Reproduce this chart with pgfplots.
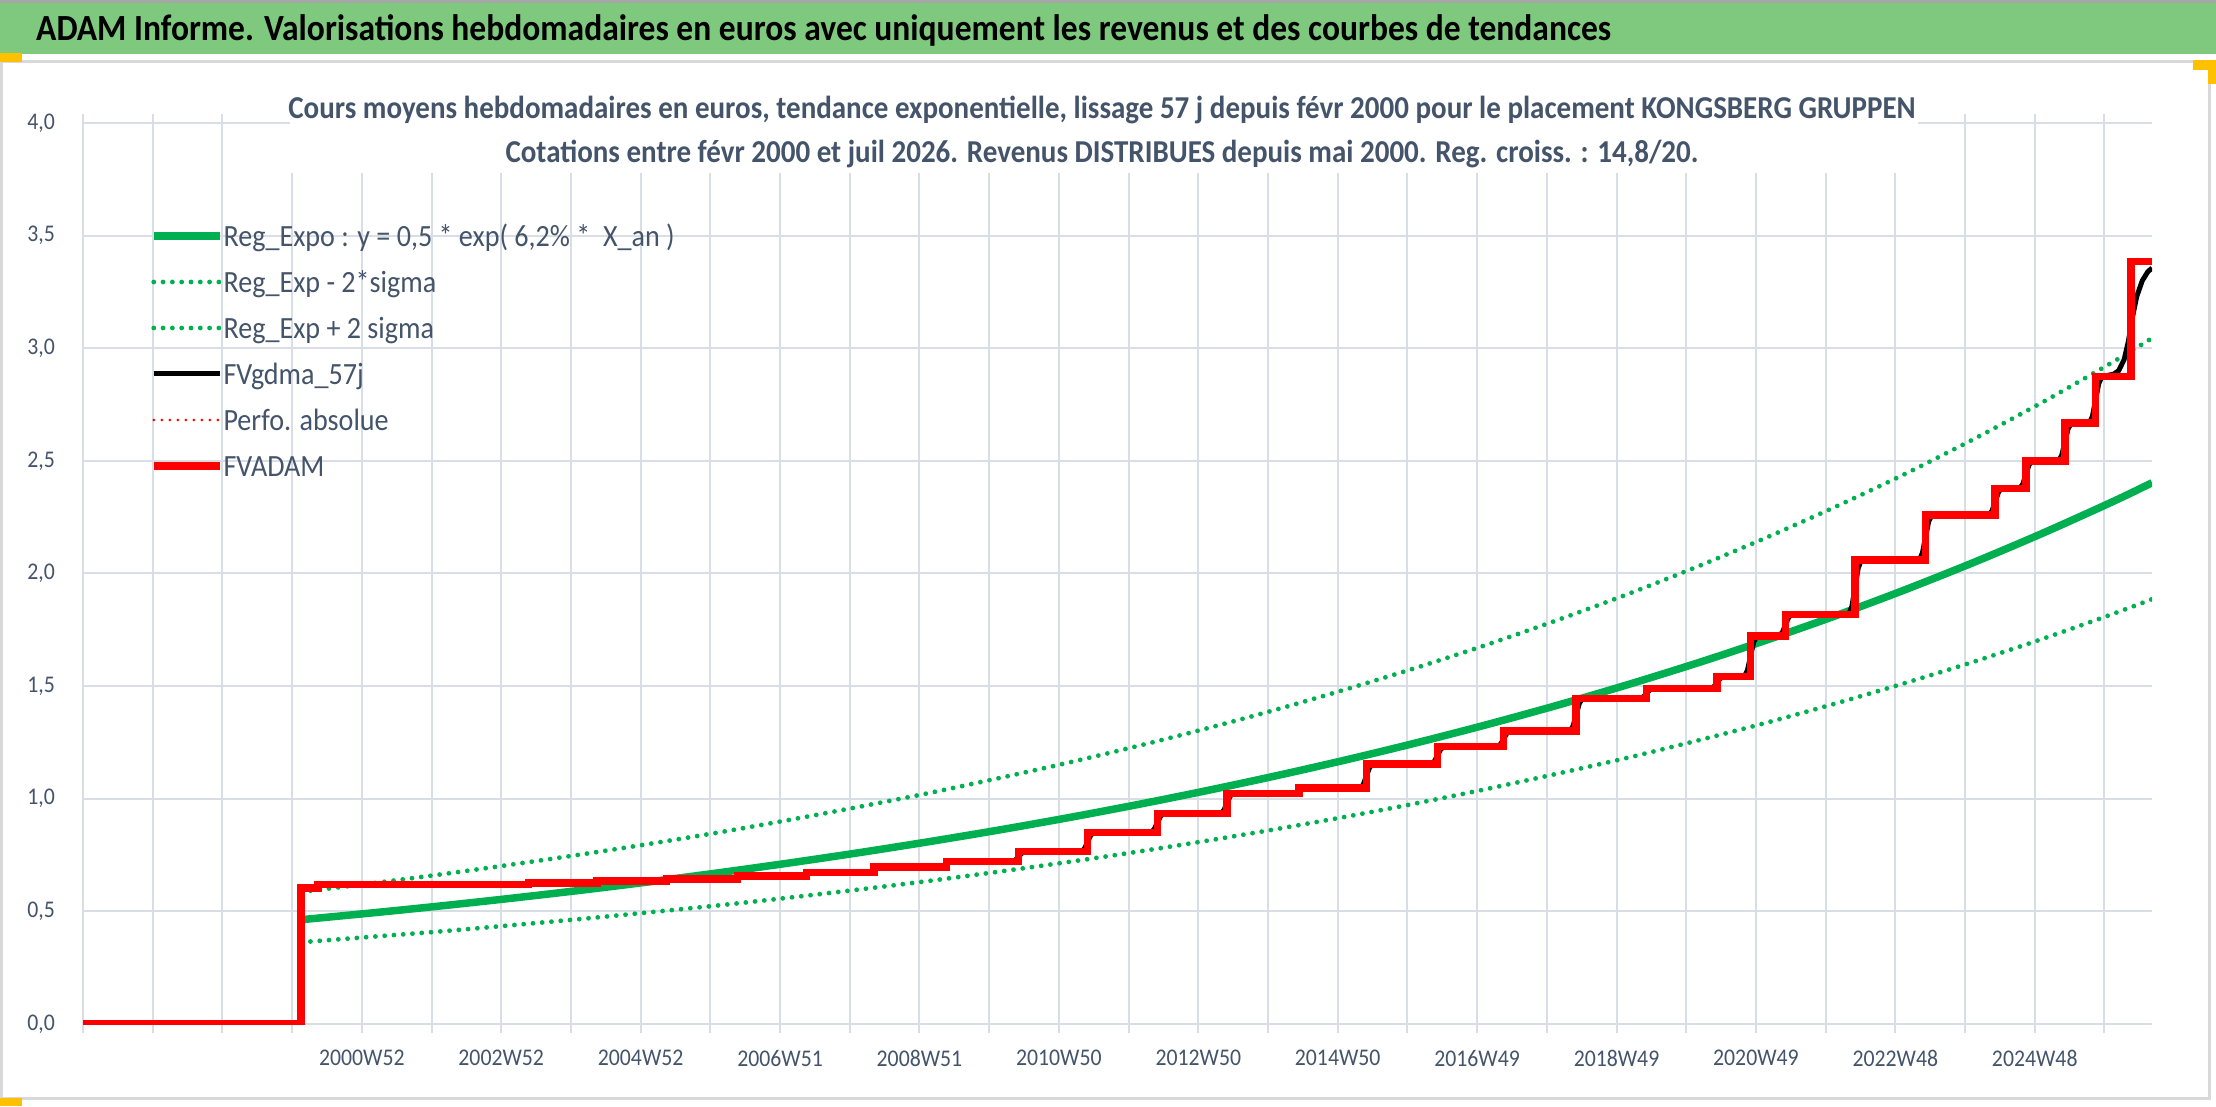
\documentclass[border=0pt]{standalone}
\usepackage{fontspec}
\setmainfont{Carlito}[FakeStretch=0.91]
\usepackage{pgfplots}
\pgfplotsset{compat=1.18}
\definecolor{tgreen}{RGB}{127,201,127}
\definecolor{xgreen}{RGB}{0,176,80}
\definecolor{gridc}{RGB}{217,222,230}
\definecolor{txt}{RGB}{68,84,106}
\definecolor{framec}{RGB}{217,217,217}
\definecolor{gold}{RGB}{255,192,0}
\begin{document}
\begin{tikzpicture}[x=1bp,y=1bp]
\path[use as bounding box] (0,0) rectangle (2216,1106);
\fill[white] (0,0) rectangle (2216,1106);
\fill[tgreen] (0,1052) rectangle (2216,1103);
\fill[gray!70] (0,1103) rectangle (2216,1106);
\draw[framec, line width=3bp] (1.5,8) rectangle (2209,1044);
\fill[gold] (0,1044) rectangle (22,1053);
\fill[gold] (0,0) rectangle (22,8);
\fill[gold] (2193,1036) rectangle (2216,1046);
\fill[gold] (2208,1022) rectangle (2216,1046);
\node[anchor=base west, inner sep=0pt, font=\fontsize{37}{37}\selectfont\bfseries] at (36,1065) {ADAM Informe. Valorisations hebdomadaires en euros avec uniquement les revenus et des courbes de tendances};
\begin{axis}[
  at={(83bp,82bp)}, anchor=south west, scale only axis,
  width=2069bp, height=901bp,
  xmin=1997, xmax=2026.68, ymin=0, ymax=4,
  axis line style={draw=none},
  xtick={1997,...,2026},
  xticklabels={,,,,2000W52,,2002W52,,2004W52,,2006W51,,2008W51,,2010W50,,2012W50,,2014W50,,2016W49,,2018W49,,2020W49,,2022W48,,2024W48,},
  ytick={0,0.5,...,4},
  grid=major,
  major grid style={gridc, line width=2bp},
  tick align=outside,
  major tick length=9bp,
  xtick style={gridc, line width=2bp},
  ytick style={draw=none},
  xticklabel style={font=\fontsize{24}{24}\selectfont, text=txt, anchor=north, inner sep=0pt, yshift=-17bp},
  yticklabel style={/pgf/number format/.cd, fixed, fixed zerofill, precision=1, use comma, assume math mode=true, /tikz/.cd, font=\fontsize{24}{24}\selectfont, text=txt, anchor=east, inner sep=0pt, xshift=-19bp},
  legend style={at={(0.0324,0.889)}, anchor=north west, draw=none, fill=none, inner sep=0pt, outer sep=0pt,
    font=\fontsize{31}{31}\selectfont, text=txt,
    nodes={inner sep=0pt, text height=24bp, text depth=22bp},
    /tikz/every even column/.append style={column sep=7bp}},
  legend cell align=left,
  legend image code/.code={\draw[#1] (0bp,10bp) -- (66bp,10bp);},
]
% Reg_Expo
\addplot[xgreen, line width=7.5bp, smooth] coordinates {
(2000.13,0.463)(2001.13,0.4927)(2002.13,0.5241)(2003.13,0.5577)(2004.13,0.5934)(2005.13,0.6313)(2006.13,0.6718)(2007.13,0.7148)(2008.13,0.7605)(2009.13,0.8092)(2010.13,0.8607)(2011.13,0.9157)(2012.13,0.9743)(2013.13,1.0367)(2014.13,1.1030)(2015.13,1.1735)(2016.13,1.2485)(2017.13,1.3284)(2018.13,1.4134)(2019.13,1.5038)(2020.13,1.5999)(2021.13,1.7023)(2022.13,1.8111)(2023.13,1.9269)(2024.13,2.0502)(2025.13,2.1814)(2026.13,2.3209)(2026.68,2.403)};
\addlegendentry{Reg\_Expo : y = 0,5 * exp( 6,2\% *\ \ X\_an )}
% lower
\addplot[xgreen, line width=4.8bp, line cap=round, dash pattern=on 0pt off 9.3bp, smooth] coordinates {
(2000.13,0.363)(2001.13,0.387)(2002.13,0.411)(2003.13,0.438)(2004.13,0.466)(2005.13,0.496)(2006.13,0.527)(2007.13,0.561)(2008.13,0.597)(2009.13,0.635)(2010.13,0.676)(2011.13,0.719)(2012.13,0.765)(2013.13,0.814)(2014.13,0.866)(2015.13,0.921)(2016.13,0.980)(2017.13,1.043)(2018.13,1.110)(2019.13,1.180)(2020.13,1.256)(2021.13,1.336)(2022.13,1.422)(2023.13,1.513)(2024.13,1.609)(2025.13,1.712)(2026.13,1.822)(2026.68,1.886)};
\addlegendentry{Reg\_Exp - 2*sigma}
% upper
\addplot[xgreen, line width=4.8bp, line cap=round, dash pattern=on 0pt off 9.3bp, smooth] coordinates {
(2000.13,0.587)(2001.13,0.624)(2002.13,0.664)(2003.13,0.707)(2004.13,0.752)(2005.13,0.800)(2006.13,0.851)(2007.13,0.906)(2008.13,0.964)(2009.13,1.025)(2010.13,1.091)(2011.13,1.160)(2012.13,1.234)(2013.13,1.313)(2014.13,1.397)(2015.13,1.487)(2016.13,1.582)(2017.13,1.683)(2018.13,1.791)(2019.13,1.905)(2020.13,2.027)(2021.13,2.157)(2022.13,2.295)(2023.13,2.441)(2024.13,2.598)(2025.13,2.764)(2026.13,2.941)(2026.68,3.045)};
\addlegendentry{Reg\_Exp + 2 sigma}
% FVgdma_57j
\addplot[black, line width=5bp] coordinates {
(2000.15,0.604)(2000.30,0.604)(2000.45,0.620)
(2003.33,0.620)(2003.45,0.627)(2004.31,0.627)(2004.43,0.635)(2005.31,0.635)(2005.43,0.644)(2006.33,0.644)(2006.45,0.657)(2007.32,0.657)(2007.44,0.672)
(2008.26,0.672)(2008.305,0.676)(2008.35,0.685)(2008.395,0.694)(2008.44,0.698)
(2009.30,0.698)(2009.345,0.701)(2009.39,0.710)(2009.435,0.718)(2009.48,0.721)
(2010.33,0.721)(2010.375,0.728)(2010.42,0.743)(2010.465,0.758)(2010.51,0.765)
(2011.32,0.765)(2011.365,0.778)(2011.41,0.808)(2011.455,0.838)(2011.50,0.851)
(2012.32,0.851)(2012.365,0.864)(2012.41,0.893)(2012.455,0.922)(2012.50,0.935)
(2013.32,0.935)(2013.365,0.948)(2013.41,0.980)(2013.455,1.011)(2013.50,1.024)
(2014.35,1.024)(2014.395,1.027)(2014.44,1.036)(2014.485,1.044)(2014.53,1.047)
(2015.32,1.047)(2015.365,1.063)(2015.41,1.101)(2015.455,1.138)(2015.50,1.154)
(2016.34,1.154)(2016.385,1.166)(2016.43,1.193)(2016.475,1.219)(2016.52,1.231)
(2017.29,1.231)(2017.335,1.242)(2017.38,1.266)(2017.425,1.291)(2017.47,1.301)
(2018.33,1.301)(2018.375,1.323)(2018.42,1.374)(2018.465,1.424)(2018.51,1.446)
(2019.34,1.446)(2019.385,1.453)(2019.43,1.468)(2019.475,1.483)(2019.52,1.490)
(2020.35,1.490)(2020.395,1.498)(2020.44,1.516)(2020.485,1.534)(2020.53,1.542)
(2020.83,1.542)(2020.875,1.569)(2020.92,1.632)(2020.965,1.695)(2021.01,1.722)
(2021.33,1.722)(2021.375,1.737)(2021.42,1.771)(2021.465,1.804)(2021.51,1.819)
(2022.33,1.819)(2022.375,1.855)(2022.42,1.940)(2022.465,2.024)(2022.51,2.060)
(2023.34,2.06)(2023.385,2.09)(2023.43,2.16)(2023.475,2.23)(2023.52,2.26)
(2024.34,2.26)(2024.385,2.278)(2024.43,2.319)(2024.475,2.360)(2024.52,2.378)
(2024.78,2.378)(2024.825,2.396)(2024.87,2.439)(2024.915,2.482)(2024.96,2.50)
(2025.34,2.50)(2025.385,2.525)(2025.43,2.584)(2025.475,2.642)(2025.52,2.667)
(2025.78,2.667)(2025.825,2.698)(2025.87,2.771)(2025.915,2.843)(2025.96,2.874)
(2026.13,2.885)(2026.20,2.90)(2026.28,2.95)(2026.34,3.03)(2026.40,3.14)(2026.46,3.23)(2026.54,3.30)(2026.62,3.34)(2026.68,3.356)};
\addlegendentry{FVgdma\_57j}
\addlegendimage{red, line width=3bp, line cap=round, dash pattern=on 0pt off 8bp}
\addlegendentry{Perfo. absolue}
% FVADAM
\addplot[red, line width=7.5bp, const plot] coordinates {
(1997.0,0)(2000.13,0.604)(2000.37,0.620)(2003.39,0.627)(2004.37,0.635)(2005.37,0.644)(2006.39,0.657)(2007.38,0.672)(2008.35,0.698)(2009.39,0.721)(2010.42,0.765)(2011.41,0.851)(2012.41,0.935)(2013.41,1.024)(2014.44,1.047)(2015.41,1.154)(2016.43,1.231)(2017.38,1.301)(2018.42,1.446)(2019.43,1.490)(2020.44,1.542)(2020.92,1.722)(2021.42,1.819)(2022.42,2.06)(2023.43,2.26)(2024.43,2.378)(2024.87,2.50)(2025.43,2.667)(2025.87,2.874)(2026.38,3.384)(2026.68,3.384)};
\addlegendentry{FVADAM}
\end{axis}
\fill[white] (290,933) rectangle (1918,1040);
\node[anchor=base, inner sep=0pt, text=txt, font=\fontsize{32}{32}\selectfont\bfseries] at (1102,987) {Cours moyens hebdomadaires en euros, tendance exponentielle, lissage 57 j depuis févr 2000 pour le placement KONGSBERG GRUPPEN};
\node[anchor=base, inner sep=0pt, text=txt, font=\fontsize{32}{32}\selectfont\bfseries] at (1102,943) {Cotations entre févr 2000 et juil 2026. Revenus DISTRIBUES depuis mai 2000. Reg. croiss. : 14,8/20.};
\end{tikzpicture}
\end{document}
